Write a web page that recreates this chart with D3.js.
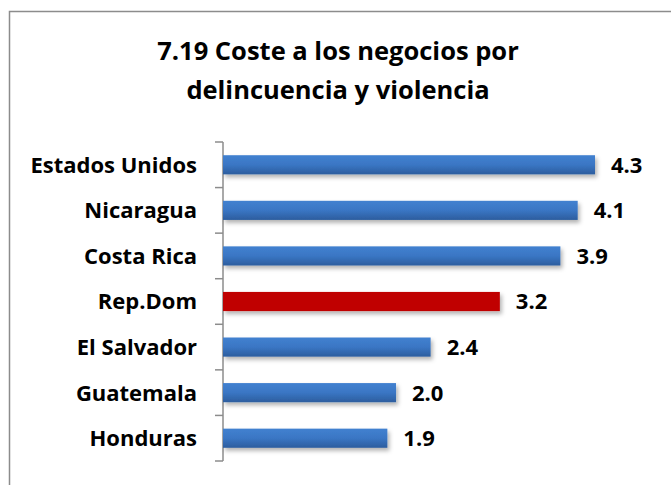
<!DOCTYPE html>
<html><head><meta charset="utf-8">
<script src="https://cdn.jsdelivr.net/npm/d3@7"></script>
<style>body{margin:0;background:#fff;} svg{display:block;}</style>
</head><body>
<script>
const categories = ["Estados Unidos","Nicaragua","Costa Rica","Rep.Dom","El Salvador","Guatemala","Honduras"];
const values = [4.3,4.1,3.9,3.2,2.4,2.0,1.9];
const highlight = "Rep.Dom";
const titleLines = ["7.19 Coste a los negocios por","delincuencia y violencia"];

const W = 671, H = 485;
const svg = d3.select("body").append("svg").attr("width",W).attr("height",H);
const defs = svg.append("defs");
const gb = defs.append("linearGradient").attr("id","gblue").attr("x1",0).attr("y1",0).attr("x2",0).attr("y2",1);
gb.append("stop").attr("offset","0").attr("stop-color","#4281d0");
gb.append("stop").attr("offset","0.5").attr("stop-color","#3a76c4");
gb.append("stop").attr("offset","1").attr("stop-color","#2c5d9e");
const gr = defs.append("linearGradient").attr("id","gred").attr("x1",0).attr("y1",0).attr("x2",0).attr("y2",1);
gr.append("stop").attr("offset","0").attr("stop-color","#c00000");
gr.append("stop").attr("offset","1").attr("stop-color","#c00000");
const f = defs.append("filter").attr("id","sh").attr("x","-5%").attr("y","-30%").attr("width","115%").attr("height","190%");
f.append("feDropShadow").attr("dx",2).attr("dy",3).attr("stdDeviation",2).attr("flood-color","#000").attr("flood-opacity",0.3);

// outer border
svg.append("path").attr("d",`M9.5,${H} V11.5 H${W}`).attr("fill","none").attr("stroke","#8c8c8c").attr("stroke-width",1.5);

const font = "'Open Sans', sans-serif";
svg.append("g").selectAll("text").data(titleLines).join("text")
  .attr("x",338).attr("y",(d,i)=>60+i*38.5).attr("text-anchor","middle")
  .attr("font-family",font).attr("font-weight","bold").attr("font-size",25.5).attr("fill","#000")
  .text(d=>d);

const x = d3.scaleLinear().domain([0,4.3]).range([223,595]);
const y = d3.scaleBand().domain(categories).range([142,461]).paddingInner(0.58).paddingOuter(0.29);

const yAxis = d3.axisLeft(y).tickSize(0).tickFormat("");
const ga = svg.append("g").attr("transform","translate(223,0)").call(yAxis);
ga.select(".domain").attr("stroke","#8c8c8c").attr("stroke-width",1.5).attr("d","M0,142V461");
// boundary ticks
const step = (461-142)/categories.length;
ga.selectAll(".bt").data(d3.range(categories.length+1)).join("line").attr("class","bt")
  .attr("x1",-8).attr("x2",0).attr("y1",i=>142+i*step).attr("y2",i=>142+i*step)
  .attr("stroke","#8c8c8c").attr("stroke-width",1.5);

svg.append("g").selectAll("rect").data(categories).join("rect")
  .attr("x",x(0)).attr("y",d=>y(d)).attr("height",y.bandwidth())
  .attr("width",(d,i)=>x(values[i])-x(0))
  .attr("fill",d=>d===highlight?"url(#gred)":"url(#gblue)")
  .attr("filter","url(#sh)");

svg.append("g").selectAll("text").data(categories).join("text")
  .attr("x",197).attr("y",d=>y(d)+y.bandwidth()/2).attr("dy","0.36em").attr("text-anchor","end")
  .attr("font-family",font).attr("font-weight","bold").attr("font-size",22).attr("fill","#000")
  .text(d=>d);

svg.append("g").selectAll("text").data(categories).join("text")
  .attr("x",(d,i)=>x(values[i])+16).attr("y",d=>y(d)+y.bandwidth()/2).attr("dy","0.36em")
  .attr("font-family",font).attr("font-weight","bold").attr("font-size",22).attr("fill","#000")
  .text((d,i)=>values[i].toFixed(1));
</script>
</body></html>
